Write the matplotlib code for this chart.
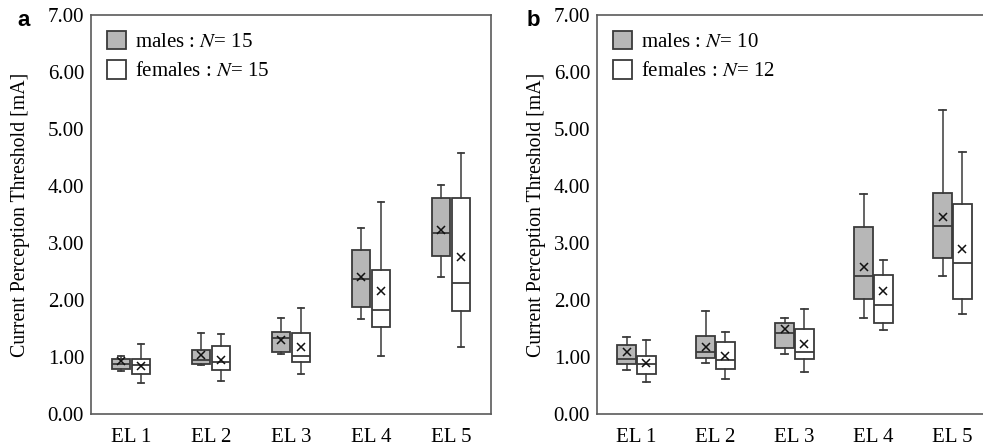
import numpy as np
import matplotlib.pyplot as plt
from matplotlib.patches import Patch

plt.rcParams['font.family'] = ['Liberation Serif', 'DejaVu Serif']
plt.rcParams['mathtext.fontset'] = 'stix'

# =============================================================================
# DATA
# =============================================================================
electrodes = ["EL 1", "EL 2", "EL 3", "EL 4", "EL 5"]

# panel a
a_m_lo = [0.76, 0.86, 1.05, 1.66, 2.40]
a_m_q1 = [0.79, 0.88, 1.08, 1.87, 2.77]
a_m_med = [0.88, 0.94, 1.33, 2.37, 3.18]
a_m_q3 = [0.96, 1.12, 1.43, 2.87, 3.79]
a_m_hi = [1.02, 1.42, 1.68, 3.26, 4.02]
a_m_mean = [0.93, 1.04, 1.30, 2.41, 3.22]

a_f_lo = [0.55, 0.58, 0.71, 1.02, 1.18]
a_f_q1 = [0.71, 0.77, 0.92, 1.53, 1.81]
a_f_med = [0.86, 0.92, 1.02, 1.82, 2.29]
a_f_q3 = [0.96, 1.20, 1.42, 2.53, 3.79]
a_f_hi = [1.22, 1.40, 1.86, 3.72, 4.58]
a_f_mean = [0.84, 0.94, 1.17, 2.16, 2.75]

# panel b
b_m_lo = [0.78, 0.89, 1.05, 1.68, 2.42]
b_m_q1 = [0.88, 0.98, 1.15, 2.01, 2.74]
b_m_med = [0.96, 1.09, 1.42, 2.42, 3.29]
b_m_q3 = [1.21, 1.36, 1.60, 3.28, 3.88]
b_m_hi = [1.35, 1.80, 1.68, 3.86, 5.34]
b_m_mean = [1.08, 1.18, 1.49, 2.58, 3.46]

b_f_lo = [0.57, 0.61, 0.74, 1.47, 1.76]
b_f_q1 = [0.70, 0.79, 0.97, 1.59, 2.01]
b_f_med = [0.87, 0.95, 1.09, 1.92, 2.65]
b_f_q3 = [1.02, 1.26, 1.50, 2.44, 3.69]
b_f_hi = [1.29, 1.43, 1.85, 2.70, 4.60]
b_f_mean = [0.90, 1.02, 1.23, 2.15, 2.89]

a_n_male, a_n_female = 15, 15
b_n_male, b_n_female = 10, 12

yticks = [0, 1, 2, 3, 4, 5, 6, 7]

MALE_COL = '#b7b7b7'
EDGE = '#3a3a3a'
SPINE = '#5a5a5a'


def make_stats(lo, q1, med, q3, hi, mean):
    return [dict(whislo=lo[i], q1=q1[i], med=med[i], q3=q3[i],
                 whishi=hi[i], mean=mean[i], fliers=[])
            for i in range(len(med))]


def draw_panel(ax, male, female, n_m, n_f, letter, ylab_x, letter_x):
    x = np.arange(1, len(electrodes) + 1)
    for stats, off, fc in [(male, -0.125, MALE_COL), (female, 0.125, 'white')]:
        ax.bxp(stats, positions=x + off, widths=0.235, showmeans=True,
               patch_artist=True, manage_ticks=False,
               boxprops=dict(facecolor=fc, edgecolor=EDGE, linewidth=1.3),
               medianprops=dict(color=EDGE, linewidth=1.3),
               whiskerprops=dict(color=EDGE, linewidth=1.1),
               capprops=dict(color=EDGE, linewidth=1.3),
               capwidths=0.08,
               meanprops=dict(marker='x', markeredgecolor='#111111',
                              markersize=6, markeredgewidth=1.1))
    ax.set_xlim(0.5, len(electrodes) + 0.5)
    ax.set_ylim(0, 7)
    ax.set_yticks(yticks)
    ax.set_yticklabels([f"{v:.2f}" for v in yticks], fontsize=15)
    ax.set_xticks(x)
    ax.set_xticklabels(electrodes, fontsize=15)
    ax.tick_params(axis='y', length=0, pad=5)
    ax.tick_params(axis='x', length=0, pad=10)
    ax.set_ylabel("Current Perception Threshold [mA]", fontsize=14.3)
    ax.yaxis.set_label_coords(ylab_x, 0.5)
    for s in ax.spines.values():
        s.set_color(SPINE)
        s.set_linewidth(1.2)
    handles = [Patch(facecolor=MALE_COL, edgecolor=EDGE, linewidth=1.3),
               Patch(facecolor='white', edgecolor=EDGE, linewidth=1.3)]
    labels = [f"males : $N$= {n_m}", f"females : $N$= {n_f}"]
    ax.legend(handles, labels, loc='upper left', frameon=False, fontsize=15,
              handlelength=0.95, handleheight=1.0, handletextpad=0.4,
              labelspacing=0.38, borderaxespad=0.35, bbox_to_anchor=(0.0, 1.0))
    ax.text(letter_x, 0.986, letter, transform=ax.transAxes, fontsize=16,
            fontweight='bold', family='Liberation Sans', va='center', ha='center')


fig = plt.figure(figsize=(9.83, 4.48), dpi=100)
ax_a = fig.add_axes([91 / 983, 34 / 448, 400 / 983, 399 / 448])
ax_b = fig.add_axes([597 / 983, 34 / 448, 395 / 983, 399 / 448])

draw_panel(ax_a, make_stats(a_m_lo, a_m_q1, a_m_med, a_m_q3, a_m_hi, a_m_mean),
           make_stats(a_f_lo, a_f_q1, a_f_med, a_f_q3, a_f_hi, a_f_mean),
           a_n_male, a_n_female, 'a', -0.152, -0.1675)
draw_panel(ax_b, make_stats(b_m_lo, b_m_q1, b_m_med, b_m_q3, b_m_hi, b_m_mean),
           make_stats(b_f_lo, b_f_q1, b_f_med, b_f_q3, b_f_hi, b_f_mean),
           b_n_male, b_n_female, 'b', -0.128, -0.16)

fig.savefig("out.png", dpi=100)
